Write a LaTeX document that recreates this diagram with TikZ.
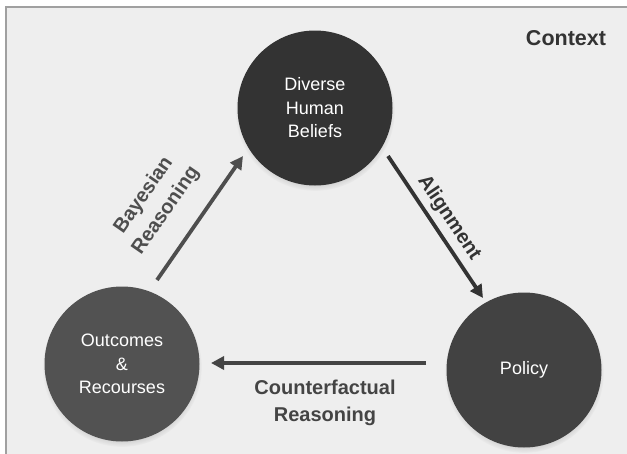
\documentclass[tikz,border=0pt]{standalone}
\usepackage{fontspec}
\setmainfont{Liberation Sans}
\usetikzlibrary{arrows.meta,shadows}
\definecolor{bgc}{HTML}{EEEEEE}
\definecolor{bordc}{HTML}{A0A0A0}
\definecolor{ctop}{HTML}{333333}
\definecolor{cleft}{HTML}{525252}
\definecolor{cright}{HTML}{424242}
\definecolor{cdark}{HTML}{333333}
\definecolor{cmid}{HTML}{444444}
\definecolor{clight}{HTML}{4E4E4E}
\tikzset{
  circ/.style={circle, minimum size=155pt, inner sep=0pt, text=white, align=center,
    font=\fontsize{18}{23.5}\selectfont,
    circular drop shadow={shadow xshift=0pt, shadow yshift=-3pt, shadow scale=1.03, opacity=0.45}},
  lbl/.style={align=center, font=\bfseries\fontsize{20}{27}\selectfont},
  flow/.style={line width=3.8pt, -{Triangle[length=13pt,width=13pt]}}
}
\begin{document}
\begin{tikzpicture}[x=1pt,y=-1pt]
\useasboundingbox (0,0) rectangle (627,453);
\fill[white] (0,0) rectangle (627,453);
\fill[bgc] (6,7) rectangle (640,470);
\draw[bordc, line width=1.2pt] (6,470) -- (6,7) -- (640,7);

\node[circ, fill=ctop] (beliefs) at (315,108) {Diverse\\Human\\Beliefs};
\node[circ, fill=cleft] (outcomes) at (122,364) {Outcomes\\\&\\Recourses};
\node[circ, fill=cright] (policy) at (524,370) {Policy};

\coordinate (b1) at (157,280);
\coordinate (b2) at (243,156);
\coordinate (a1) at (388,156);
\coordinate (a2) at (483,298);
\coordinate (c1) at (426,363);
\coordinate (c2) at (211,363);

\draw[flow, clight] (b1) -- (b2);
\draw[flow, cdark] (a1) -- (a2);
\draw[flow, cmid] (c1) -- (c2);

\node[lbl, text=clight, rotate=55.3] (bay) at (155,203) {Bayesian\\Reasoning};
\node[lbl, text=cdark, rotate=-56.3] (ali) at (449,218) {Alignment};
\node[lbl, text=cmid] (cf) at (325,403) {Counterfactual\\Reasoning};
\node[font=\bfseries\fontsize{21.5}{25}\selectfont, text=cdark] (ctx) at (566,38) {Context};
\end{tikzpicture}
\end{document}
